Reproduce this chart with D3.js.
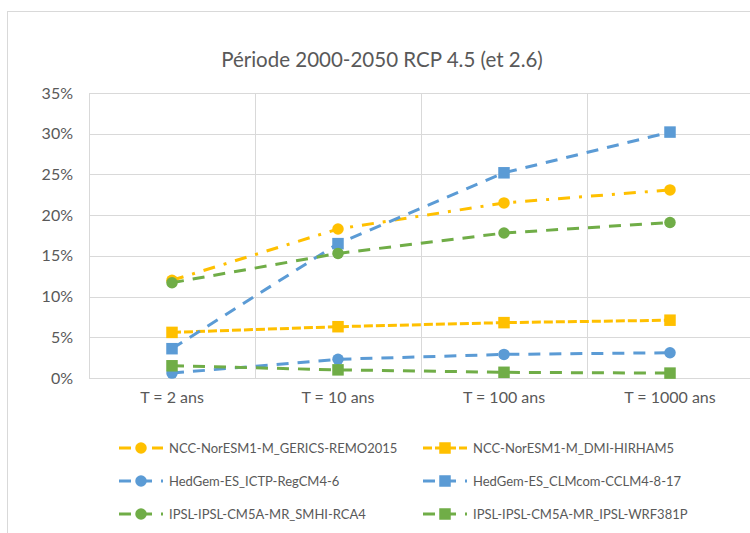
<!DOCTYPE html>
<html>
<head>
<meta charset="utf-8">
<script src="https://cdn.jsdelivr.net/npm/d3@7"></script>
<style>
  html, body { margin: 0; padding: 0; background: #fff; }
  svg { display: block; font-family: Lato, "Open Sans", sans-serif; }
</style>
</head>
<body>
<svg id="chart" width="750" height="533"></svg>
<script>
// ---- Data ----
const title = "Période 2000-2050 RCP 4.5 (et 2.6)";
const categories = ["T = 2 ans", "T = 10 ans", "T = 100 ans", "T = 1000 ans"];
const yTicks = [0, 0.05, 0.10, 0.15, 0.20, 0.25, 0.30, 0.35];
const seriesNames = [
  "NCC-NorESM1-M_GERICS-REMO2015",
  "NCC-NorESM1-M_DMI-HIRHAM5",
  "HedGem-ES_ICTP-RegCM4-6",
  "HedGem-ES_CLMcom-CCLM4-8-17",
  "IPSL-IPSL-CM5A-MR_SMHI-RCA4",
  "IPSL-IPSL-CM5A-MR_IPSL-WRF381P"
];
const gericsValues = [0.120, 0.183, 0.215, 0.231];
const hirhamValues = [0.056, 0.063, 0.068, 0.071];
const regcmValues  = [0.006, 0.023, 0.029, 0.031];
const cclmValues   = [0.036, 0.165, 0.252, 0.302];
const rca4Values   = [0.117, 0.153, 0.178, 0.191];
const wrfValues    = [0.015, 0.010, 0.007, 0.006];

// ---- Styles ----
const YELLOW = "#FFC000", BLUE = "#5B9BD5", GREEN = "#70AD47";
const styles = [
  { color: YELLOW, marker: "circle", dash: "12,9,3,9" },
  { color: YELLOW, marker: "square", dash: "9,3" },
  { color: BLUE,   marker: "circle", dash: "12,9" },
  { color: BLUE,   marker: "square", dash: "12,9" },
  { color: GREEN,  marker: "circle", dash: "12,9" },
  { color: GREEN,  marker: "square", dash: "12,9" }
];
const allValues = [gericsValues, hirhamValues, regcmValues, cclmValues, rca4Values, wrfValues];
const series = seriesNames.map((name, i) => ({ name, values: allValues[i], ...styles[i] }));

const svg = d3.select("#chart");
const TEXT = "#595959", GRID = "#d9d9d9";

// outer border
svg.append("rect").attr("x", 7.5).attr("y", 11.5).attr("width", 760).attr("height", 540)
  .attr("fill", "none").attr("stroke", GRID).attr("stroke-width", 1);

const plot = { left: 89, right: 753, top: 93, bottom: 378 };
const x = d3.scaleBand().domain(categories).range([plot.left, plot.right]);
const y = d3.scaleLinear().domain([0, 0.35]).range([plot.bottom, plot.top]);

// title
svg.append("text").attr("x", 382).attr("y", 67).attr("text-anchor", "middle")
  .attr("fill", TEXT).style("font-size", "20.5px").text(title);

// horizontal gridlines + y labels
const yAxis = svg.append("g").attr("transform", `translate(${plot.left},0)`)
  .call(d3.axisLeft(y).tickValues(yTicks).tickFormat(d3.format(".0%"))
    .tickSize(-(plot.right - plot.left)).tickPadding(16));
yAxis.select(".domain").remove();
yAxis.selectAll(".tick line").attr("stroke", GRID).attr("stroke-width", 1).attr("shape-rendering", "crispEdges");
yAxis.selectAll(".tick text").attr("fill", TEXT).style("font-size", "16px")
  .style("font-family", "Lato, 'Open Sans', sans-serif");

// vertical gridlines at category boundaries
const bounds = categories.map(c => x(c)).concat([plot.right]);
svg.append("g").selectAll("line").data(bounds).join("line")
  .attr("x1", d => Math.round(d) + 0.5).attr("x2", d => Math.round(d) + 0.5)
  .attr("y1", plot.top).attr("y2", plot.bottom)
  .attr("stroke", GRID).attr("stroke-width", 1);

// x labels
const xAxis = svg.append("g").attr("transform", `translate(0,${plot.bottom})`)
  .call(d3.axisBottom(x).tickSize(0).tickPadding(14));
xAxis.select(".domain").remove();
xAxis.selectAll(".tick text").attr("fill", TEXT).style("font-size", "16px")
  .style("font-family", "Lato, 'Open Sans', sans-serif");

const cx = c => x(c) + x.bandwidth() / 2;
const line = d3.line().x((d, i) => cx(categories[i])).y(d => y(d));

function drawMarker(g, type, px, py, color) {
  if (type === "circle") {
    g.append("circle").attr("cx", px).attr("cy", py).attr("r", 5.75).attr("fill", color);
  } else {
    g.append("rect").attr("x", px - 5.75).attr("y", py - 5.75).attr("width", 11.5).attr("height", 11.5).attr("fill", color);
  }
}

// series
series.forEach(s => {
  const g = svg.append("g");
  g.append("path").datum(s.values).attr("d", line)
    .attr("fill", "none").attr("stroke", s.color).attr("stroke-width", 3)
    .attr("stroke-dasharray", s.dash);
  s.values.forEach((v, i) => drawMarker(g, s.marker, cx(categories[i]), y(v), s.color));
});

// legend
const legendCols = [119, 423];
const legendRows = [448, 481, 514];
series.forEach((s, i) => {
  const lx = legendCols[i % 2], ly = legendRows[Math.floor(i / 2)];
  const g = svg.append("g");
  g.append("line").attr("x1", lx).attr("x2", lx + 44).attr("y1", ly).attr("y2", ly)
    .attr("stroke", s.color).attr("stroke-width", 3).attr("stroke-dasharray", s.dash);
  drawMarker(g, s.marker, lx + 22, ly, s.color);
  g.append("text").attr("x", lx + 50).attr("y", ly).attr("dy", "0.35em")
    .attr("fill", TEXT).style("font-size", "13px").text(s.name);
});
</script>
</body>
</html>
